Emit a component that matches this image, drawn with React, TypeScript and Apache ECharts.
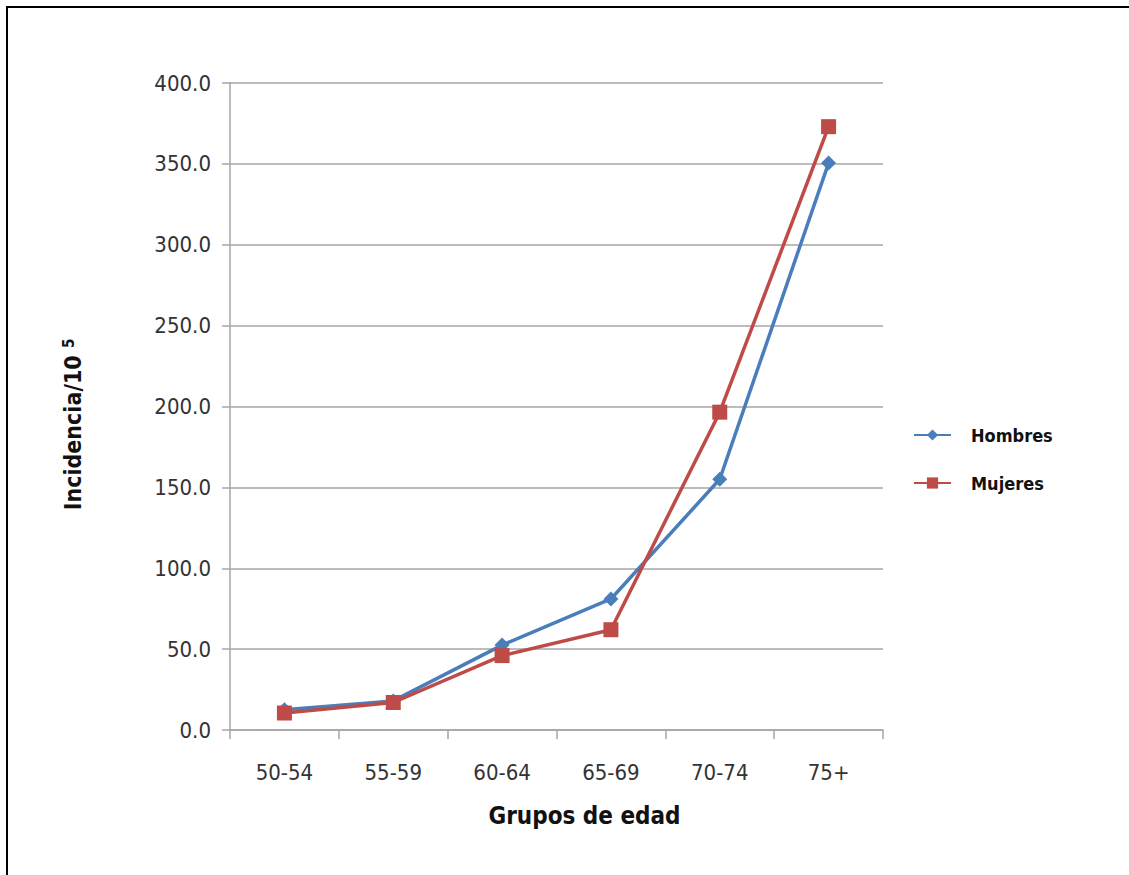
import React, { useEffect, useRef } from "react";
import * as echarts from "echarts";

// Incidence per 100 000 by age group
const ageGroups = ["50-54", "55-59", "60-64", "65-69", "70-74", "75+"];
const hombres = [12.5, 18.0, 52.5, 81.0, 155.0, 350.5];
const mujeres = [10.5, 17.0, 46.0, 62.0, 196.5, 373.0];

const BLUE = "#4a7ebb";
const RED = "#be4b48";
const GRID = "#a6a6a6";
const TICK_FONT = "'Liberation Sans Narrow', 'DejaVu Sans Condensed', sans-serif";
const TITLE_FONT = "'DejaVu Sans Condensed', 'DejaVu Sans', sans-serif";

export default function App() {
  const ref = useRef<HTMLDivElement>(null);

  useEffect(() => {
    if (!ref.current) return;
    const chart = echarts.init(ref.current, undefined, { renderer: "svg" });
    chart.setOption({
      animation: false,
      backgroundColor: "#ffffff",
      grid: { left: 230, right: 246, top: 83, bottom: 145, containLabel: false },
      legend: {
        orient: "vertical",
        left: 913,
        top: 426,
        padding: 0,
        itemWidth: 37,
        itemHeight: 14,
        itemGap: 30,
        data: ["Hombres", "Mujeres"],
        textStyle: {
          fontFamily: TITLE_FONT,
          fontWeight: "bold",
          fontSize: 18,
          color: "#111",
          padding: [0, 0, 0, 15],
        },
      },
      xAxis: {
        type: "category",
        data: ageGroups,
        boundaryGap: true,
        name: "Grupos de edad",
        nameLocation: "middle",
        nameGap: 74,
        nameTextStyle: {
          fontFamily: TITLE_FONT,
          fontWeight: "bold",
          fontSize: 24,
          color: "#111",
          padding: [0, 0, 0, 56],
        },
        axisLine: { show: true, lineStyle: { color: GRID, width: 1.5 } },
        axisTick: { show: true, length: 9, lineStyle: { color: GRID, width: 1.5 } },
        axisLabel: {
          margin: 31,
          fontFamily: TICK_FONT,
          fontSize: 22,
          color: "#333",
        },
        splitLine: { show: false },
      },
      yAxis: {
        type: "value",
        min: 0,
        max: 400,
        interval: 50,
        name: "Incidencia/10 {sup|5}",
        nameLocation: "middle",
        nameRotate: 90,
        nameGap: 146,
        nameTextStyle: {
          fontFamily: TITLE_FONT,
          fontWeight: "bold",
          fontSize: 23,
          color: "#111",
          padding: [0, 36, 0, 0],
          rich: {
            sup: {
              fontFamily: TITLE_FONT,
              fontWeight: "bold",
              fontSize: 15,
              color: "#111",
              verticalAlign: "top",
            },
          },
        },
        axisLine: { show: true, lineStyle: { color: GRID, width: 1.5 } },
        axisTick: { show: true, length: 8, lineStyle: { color: GRID, width: 1.5 } },
        axisLabel: {
          margin: 19,
          fontFamily: TICK_FONT,
          fontSize: 22,
          color: "#333",
          formatter: (v: number) => v.toFixed(1),
        },
        splitLine: { show: true, lineStyle: { color: GRID, width: 1.5 } },
      },
      series: [
        {
          name: "Hombres",
          type: "line",
          data: hombres,
          symbol: "diamond",
          symbolSize: 15,
          lineStyle: { color: BLUE, width: 3.5 },
          itemStyle: { color: BLUE },
        },
        {
          name: "Mujeres",
          type: "line",
          data: mujeres,
          symbol: "rect",
          symbolSize: 15,
          lineStyle: { color: RED, width: 3.5 },
          itemStyle: { color: RED },
        },
      ],
      graphic: [
        {
          type: "line",
          shape: { x1: 7, y1: 7, x2: 7, y2: 875 },
          style: { stroke: "#000", lineWidth: 2 },
        },
        {
          type: "line",
          shape: { x1: 6, y1: 7, x2: 1129, y2: 7 },
          style: { stroke: "#000", lineWidth: 2 },
        },
      ],
    });
    return () => chart.dispose();
  }, []);

  return (
    <div
      ref={ref}
      style={{ position: "absolute", left: 0, top: 0, width: 1129, height: 875, background: "#fff" }}
    />
  );
}
